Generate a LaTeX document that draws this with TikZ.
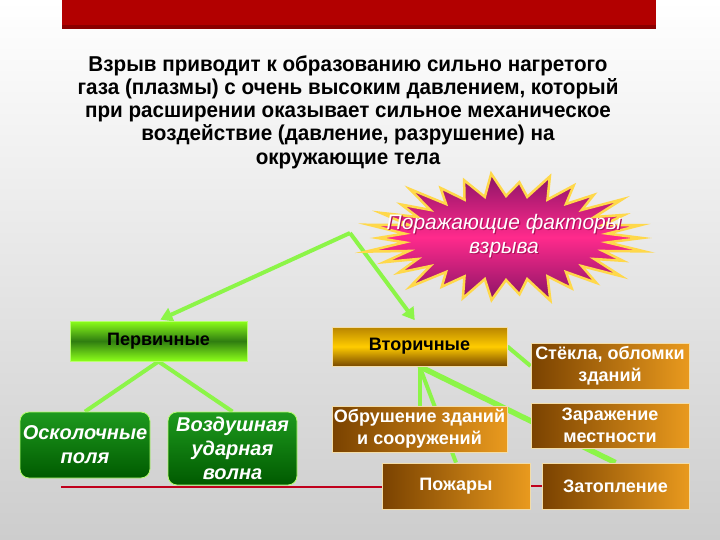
\documentclass[tikz,border=0pt]{standalone}
\usepackage{fontspec}
\setmainfont{Liberation Sans}
\newfontfamily\introfamily[FakeStretch=0.96]{Liberation Sans}
\usetikzlibrary{arrows.meta}
\pgfdeclarelayer{bglayer}
\pgfdeclarelayer{lines}
\pgfsetlayers{bglayer,lines,main}
\definecolor{bgtop}{HTML}{FFFFFF}
\definecolor{bgbot}{HTML}{CDCDCD}
\definecolor{barred}{HTML}{B20000}
\definecolor{bardark}{HTML}{8A0000}
\definecolor{linegreen}{HTML}{8CF548}
\definecolor{brownL}{HTML}{7A4200}
\definecolor{orangeR}{HTML}{E99A1E}
\definecolor{boxedge}{HTML}{F3DDA8}
\definecolor{goldT}{HTML}{B88400}
\definecolor{goldM}{HTML}{FFCC00}
\definecolor{goldB}{HTML}{7A4A00}
\definecolor{grT}{HTML}{1E9A1E}
\definecolor{grB}{HTML}{005A00}
\definecolor{limeT}{HTML}{8CFF1A}
\definecolor{limeM}{HTML}{2F7D10}
\definecolor{limeedge}{HTML}{B8FF70}
\definecolor{pinkC}{HTML}{FF2A8C}
\definecolor{pinkO}{HTML}{8A1466}
\definecolor{burstedge}{HTML}{FFD84A}
\definecolor{redline}{HTML}{C0001C}
\definecolor{shadowpink}{HTML}{B0105A}
\tikzset{
  brownbox/.style={draw=boxedge, line width=0.8pt, left color=brownL, right color=orangeR,
    inner sep=0pt, align=center, text=white, font=\fontsize{18}{22}\selectfont\bfseries},
  goldbox/.style={draw=boxedge, line width=0.8pt, top color=goldT, bottom color=goldB, middle color=goldM,
    inner sep=0pt, align=center, text=black, font=\fontsize{18}{22}\selectfont\bfseries},
  limebox/.style={draw=limeedge, line width=1pt, top color=limeT, bottom color=limeT, middle color=limeM,
    inner sep=0pt, align=center, text=black, font=\fontsize{18}{22}\selectfont\bfseries},
  greenbox/.style={draw=limeedge, line width=0.8pt, rounded corners=9pt, top color=grT, bottom color=grB,
    inner sep=0pt, align=center, text=white, font=\fontsize{20}{24}\selectfont\bfseries\itshape},
  link/.style={draw=linegreen, line width=4pt},
  arrowlink/.style={draw=linegreen, line width=4pt, -{Triangle[length=12pt,width=14pt]}, shorten >=2pt},
  redrule/.style={draw=redline, line width=2pt}
}
\begin{document}
\begin{tikzpicture}[x=1pt,y=-1pt]
\useasboundingbox (0,0) rectangle (720,540);
\begin{pgfonlayer}{bglayer}
\shade[top color=bgtop, bottom color=bgbot] (0,0) rectangle (720,540);
\fill[barred] (62,0) rectangle (656,29);
\fill[bardark] (62,25) rectangle (656,29);
\end{pgfonlayer}

\node (intro) at (348,112) [align=center, font=\introfamily\fontsize{21.5}{23.2}\selectfont\bfseries]
  {Взрыв приводит к образованию сильно нагретого\\
   газа (плазмы) с очень высоким давлением, который\\
   при расширении оказывает сильное механическое\\
   воздействие (давление, разрушение) на\\
   окружающие тела};

% starburst
\begin{scope}[shift={(506,238)}]
\filldraw[draw=burstedge, line width=2.5pt, line join=miter, top color=pinkO, bottom color=pinkO, middle color=pinkC]
  ({102*cos(-6)},{42*sin(-6)})
  \foreach \i in {0,...,29} {
    -- ({(136+8*sin(\i*137))*cos(\i*12)},{(61+5*sin(\i*137))*sin(\i*12)})
    -- ({102*cos(\i*12+6)},{42*sin(\i*12+6)})
  } -- cycle;
\end{scope}
\node (burstshadow) at (505.2,237.2) [align=center, text=shadowpink, font=\fontsize{21}{24}\selectfont\itshape]
  {Поражающие факторы\\взрыва};
\node (burst) at (504,236) [align=center, text=white, font=\fontsize{21}{24}\selectfont\itshape]
  {Поражающие факторы\\взрыва};
\coordinate (fork) at (350,233);

% boxes
\node (perv) at (158.5,341) [limebox, minimum width=177pt, minimum height=40pt] {Первичные};
\node (vtor) at (419.5,346.5) [goldbox, minimum width=175pt, minimum height=39pt] {Вторичные};
\node (stek) at (610,366) [brownbox, minimum width=158pt, minimum height=46pt] {Стёкла, обломки\\зданий};
\node (obr) at (419.5,429) [brownbox, minimum width=175pt, minimum height=46pt] {Обрушение зданий\\и сооружений};
\node (zar) at (610,425.5) [brownbox, minimum width=158pt, minimum height=45pt] {Заражение\\местности};
\node (pozh) at (456,486) [brownbox, minimum width=148pt, minimum height=46pt] {Пожары};
\node (zat) at (615.5,486) [brownbox, minimum width=147pt, minimum height=46pt] {Затопление};
\node (osk) at (85,445) [greenbox, minimum width=130pt, minimum height=66pt] {Осколочные\\поля};
\node (vozd) at (232.5,448.5) [greenbox, minimum width=129pt, minimum height=73pt] {Воздушная\\ударная\\волна};

\coordinate (redstart) at (61,487);

\begin{pgfonlayer}{lines}
\draw[arrowlink] (fork) -- (perv.north);
\draw[arrowlink, shorten >=8pt] (fork) -- (vtor.north);
\draw[link] (perv.south) -- (osk.north);
\draw[link] (perv.south) -- (vozd.north);
\draw[link] (vtor.south) -- (obr.north);
\draw[link] (vtor.south) -- (pozh.north);
\draw[link, line width=5.5pt] (vtor.south) -- (zat.north);
\draw[link] (vtor.east) -- (stek.west);
\draw[redrule] (redstart) -- (redstart -| pozh.west);
\draw[redrule] (pozh.east) -- (zat.west);
\end{pgfonlayer}
\end{tikzpicture}
\end{document}
